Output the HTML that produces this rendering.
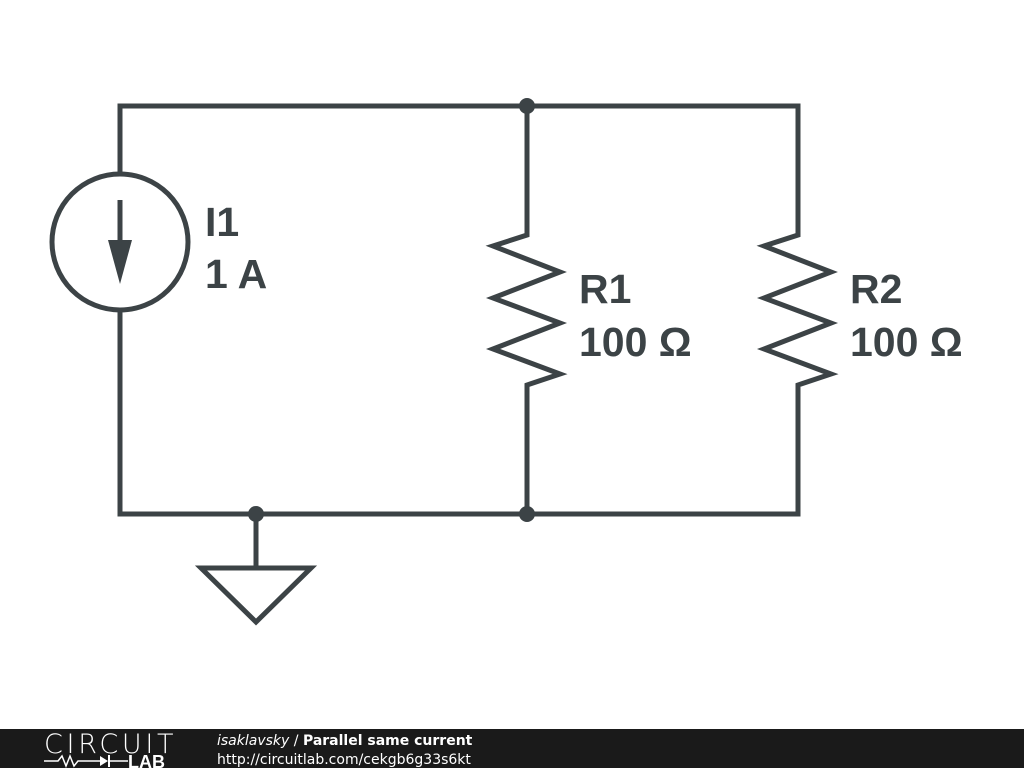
<!DOCTYPE html>
<html><head><style>
body{margin:0;width:1024px;height:768px;background:#fff;overflow:hidden;position:relative;font-family:"Liberation Sans",sans-serif}
</style></head><body>
<svg width="1024" height="768" style="position:absolute;left:0;top:0">
<g stroke="#3c4346" stroke-width="5" fill="none" stroke-linejoin="miter">
<polyline points="120,174 120,106 798,106 798,233"/>
<polyline points="120,310 120,514 798,514 798,387"/>
<line x1="527" y1="106" x2="527" y2="235"/>
<line x1="527" y1="385" x2="527" y2="514"/>
<circle cx="120" cy="242" r="68"/>
<line x1="120" y1="200" x2="120" y2="250"/>
<polyline points="527,233 527,235 493,246 560,272 493,298 560,323 493,349 560,374 527,385 527,387"/>
<polyline points="798,233 798,235 764,246 831,272 764,298 831,323 764,349 831,374 798,385 798,387"/>
<line x1="256" y1="514" x2="256" y2="568"/>
<polygon points="201,568 311,568 256,622"/>
</g>
<polygon points="108,240 132,240 120,284" fill="#3c4346"/>
<g fill="#3c4346">
<circle cx="527" cy="106" r="8"/>
<circle cx="527" cy="514" r="8"/>
<circle cx="256" cy="514" r="8"/>
</g>
<g fill="#3c4346" font-family="Liberation Sans, DejaVu Sans, sans-serif" font-weight="bold" font-size="41">
<text x="205" y="236">I1</text>
<text x="205" y="288">1 A</text>
<text x="579" y="303">R1</text>
<text x="579" y="356">100 Ω</text>
<text x="850" y="303">R2</text>
<text x="850" y="356">100 Ω</text>
</g>
<rect x="0" y="729" width="1024" height="39" fill="#1a1a1a"/>
<text x="44" y="753" fill="#fff" font-size="27" font-family="DejaVu Sans, sans-serif" font-weight="200" letter-spacing="-1.5" textLength="128">CIRCUIT</text>
<polyline points="44,761 58,761 62,756 66,766 70,756 74,766 78,761 100,761" stroke="#fff" stroke-width="1.5" fill="none"/>
<polygon points="100,756 100,766 108,761" fill="#fff"/>
<line x1="109" y1="755" x2="109" y2="767" stroke="#fff" stroke-width="2"/>
<line x1="109" y1="761" x2="128" y2="761" stroke="#fff" stroke-width="1.5"/>
<text x="128" y="768" fill="#fff" font-size="18" font-weight="bold" font-family="Liberation Sans, sans-serif">LAB</text>
<text x="217" y="745" fill="#fff" font-size="14" font-family="DejaVu Sans, sans-serif"><tspan font-style="italic">isaklavsky</tspan> / <tspan font-weight="bold">Parallel same current</tspan></text>
<text x="217" y="764" fill="#fff" font-size="14" font-family="DejaVu Sans, sans-serif">http://circuitlab.com/cekgb6g33s6kt</text>
</svg>
</body></html>
